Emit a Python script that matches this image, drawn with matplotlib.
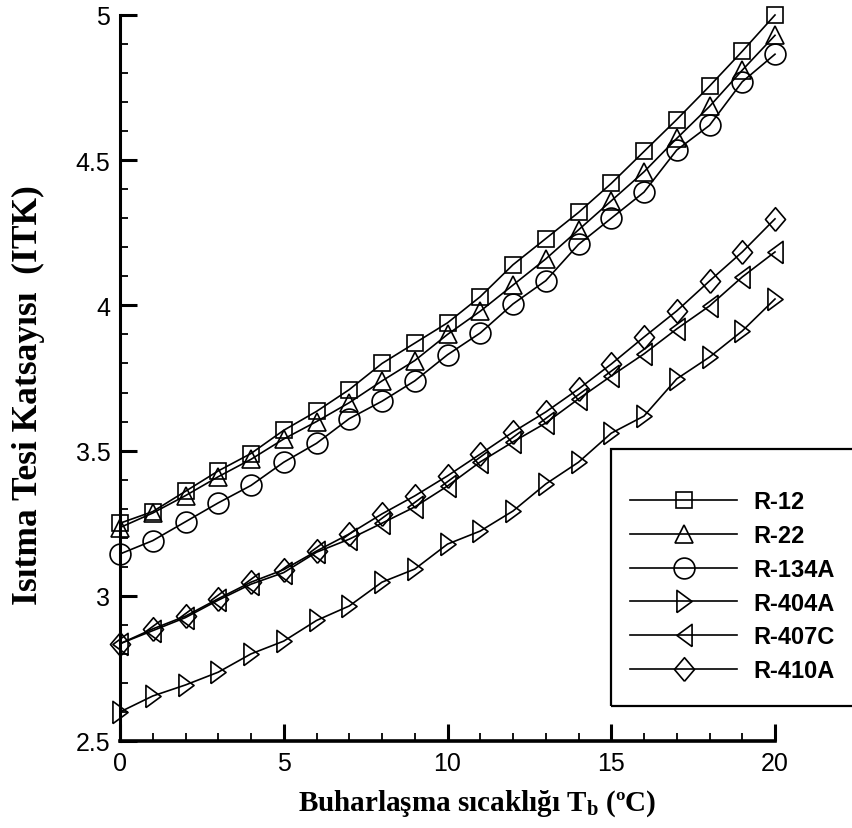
import numpy as np
import matplotlib
matplotlib.use("Agg")
import matplotlib.pyplot as plt
from matplotlib import font_manager as fm
from matplotlib.patches import Rectangle
from matplotlib.ticker import MultipleLocator

# ---------------- data ----------------
temps = list(range(0, 21))
r12 = [3.25, 3.29, 3.36, 3.43, 3.49, 3.57, 3.635, 3.71, 3.80, 3.87, 3.94,
       4.03, 4.14, 4.23, 4.32, 4.42, 4.53, 4.64, 4.755, 4.875, 5.0]
r22 = [3.235, 3.285, 3.345, 3.41, 3.47, 3.54, 3.60, 3.665, 3.74, 3.81, 3.90,
       3.98, 4.07, 4.16, 4.26, 4.36, 4.46, 4.575, 4.685, 4.81, 4.93]
r134a = [3.144, 3.19, 3.255, 3.32, 3.38, 3.46, 3.525, 3.61, 3.67, 3.74, 3.83,
         3.905, 4.005, 4.085, 4.21, 4.30, 4.39, 4.535, 4.62, 4.77, 4.865]
r404a = [2.60, 2.655, 2.693, 2.737, 2.80, 2.844, 2.915, 2.965, 3.047, 3.092, 3.178,
         3.223, 3.292, 3.385, 3.46, 3.56, 3.619, 3.747, 3.822, 3.912, 4.022]
r407c = [2.835, 2.88, 2.925, 2.985, 3.04, 3.08, 3.15, 3.195, 3.25, 3.306, 3.378,
         3.461, 3.53, 3.595, 3.678, 3.757, 3.833, 3.919, 3.998, 4.098, 4.184]
r410a = [2.835, 2.886, 2.93, 2.99, 3.047, 3.09, 3.154, 3.213, 3.282, 3.344, 3.413,
         3.488, 3.564, 3.633, 3.712, 3.798, 3.891, 3.981, 4.084, 4.184, 4.298]
labels = ["R-12", "R-22", "R-134A", "R-404A", "R-407C", "R-410A"]
xticks = [0, 5, 10, 15, 20]
yticks = [2.5, 3, 3.5, 4, 4.5, 5]
xlabel = "Buharlaşma sıcaklığı T$_{\\mathrm{b}}$ (ºC)"
ylabel = "Isıtma Tesi Katsayısı  (ITK)"

# ---------------- fonts ----------------
names = {f.name for f in fm.fontManager.ttflist}
narrow = "Liberation Sans Narrow" in names
sans = "Liberation Sans Narrow" if narrow else "Liberation Sans"
tick_fs = 20 if narrow else 18
leg_fs = 20 if narrow else 17

plt.rcParams["mathtext.fontset"] = "custom"
plt.rcParams["mathtext.rm"] = "Liberation Serif:bold"
plt.rcParams["mathtext.it"] = "Liberation Serif:bold"
plt.rcParams["mathtext.bf"] = "Liberation Serif:bold"

W, H = 852, 829
fig = plt.figure(figsize=(W / 100, H / 100), dpi=100)
ax = fig.add_axes([120 / W, 1 - 742 / H, 655 / W, 726 / H])

# custom tall side-pointing triangles and diamond
right_tri = [(-0.68, -1), (0.68, 0), (-0.68, 1), (-0.68, -1)]
left_tri = [(0.68, -1), (-0.68, 0), (0.68, 1), (0.68, -1)]
diamond = [(0, -1), (0.85, 0), (0, 1), (-0.85, 0), (0, -1)]

series = [r12, r22, r134a, r404a, r407c, r410a]
markers = ["s", "^", "o", right_tri, left_tri, diamond]
msizes = [11.5, 12.5, 15, 16, 16, 17]

handles = []
for y, m, ms, lab in zip(series, markers, msizes, labels):
    h, = ax.plot(temps, y, color="black", lw=1.2, marker=m, ms=ms,
                 mfc="none", mec="black", mew=1.2, clip_on=False, label=lab)
    handles.append(h)

ax.set_xlim(0, 20)
ax.set_ylim(2.5, 5)
ax.set_xticks(xticks)
ax.set_yticks(yticks)
ax.set_yticklabels(["2.5", "3", "3.5", "4", "4.5", "5"])
ax.xaxis.set_minor_locator(MultipleLocator(1))
ax.yaxis.set_minor_locator(MultipleLocator(0.1))
ax.tick_params(which="major", direction="in", length=12, width=2.2, pad=7,
               labelsize=tick_fs)
ax.tick_params(which="minor", direction="in", length=6, width=1.3)
for lab in ax.get_xticklabels() + ax.get_yticklabels():
    lab.set_fontfamily(sans)
for s in ["top", "right"]:
    ax.spines[s].set_visible(False)
ax.spines["left"].set_linewidth(2.2)
ax.spines["bottom"].set_linewidth(2.6)

fig.text(477 / W, 1 - 804 / H, xlabel, ha="center", va="center",
         fontsize=21, fontweight="bold", family="Liberation Serif")
fig.text(28 / W, 1 - 395 / H, ylabel, ha="center", va="center", rotation=90,
         fontsize=25.5, fontweight="bold", family="Liberation Serif")

# legend frame
fig.add_artist(Rectangle((611 / W, 1 - 707 / H), (880 - 611) / W, (707 - 450) / H,
                         transform=fig.transFigure, fill=False, lw=1.6,
                         ec="black"))
fs_px = leg_fs * 100 / 72
row_h = 1.15 * fs_px
leg = fig.legend(handles, labels, loc="upper left",
                 bbox_to_anchor=(630 / W, 1 - (505 - row_h / 2) / H),
                 frameon=False, borderpad=0, borderaxespad=0,
                 handlelength=107 / fs_px, handletextpad=16 / fs_px,
                 labelspacing=(33.6 - row_h) / fs_px + 0.18,
                 prop={"family": sans, "weight": "bold", "size": leg_fs})

fig.savefig("out.png", dpi=100)
